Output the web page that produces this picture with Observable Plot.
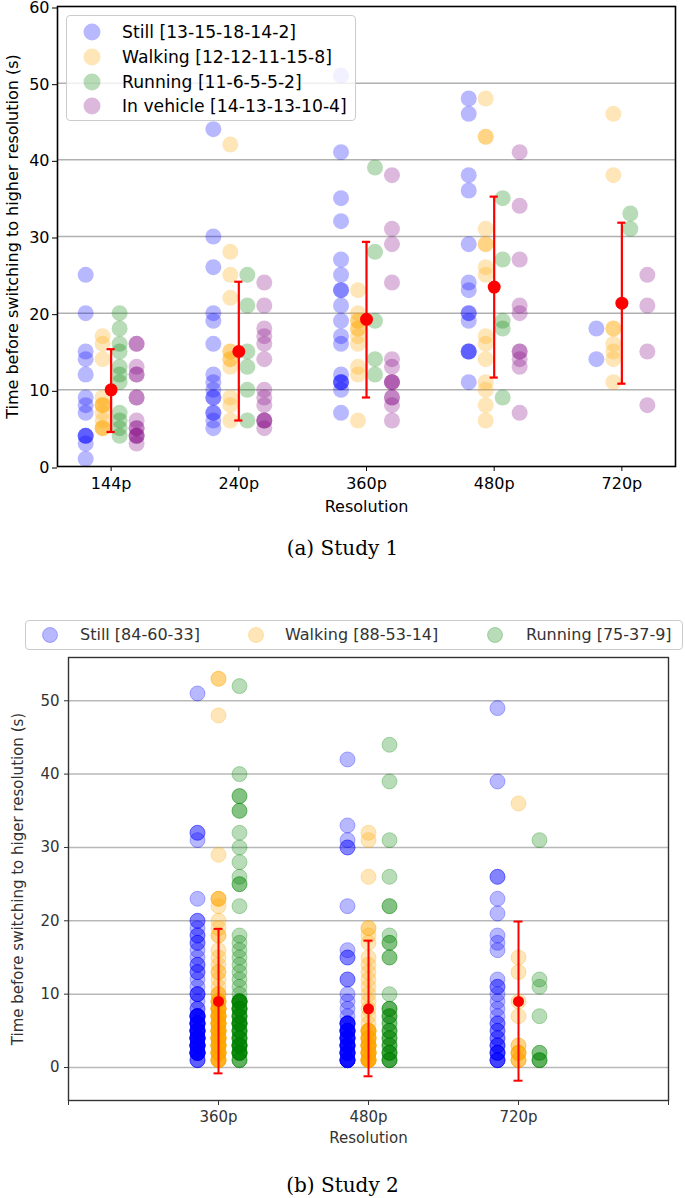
<!DOCTYPE html>
<html><head><meta charset="utf-8">
<script src="https://cdn.jsdelivr.net/npm/d3@7"></script>
<script src="https://cdn.jsdelivr.net/npm/@observablehq/plot@0.6"></script>
<style>
body{margin:0;background:#fff;overflow:hidden;}
#root{position:relative;width:685px;height:1198px;overflow:hidden;font-family:"DejaVu Sans",sans-serif;background:#fff;}
.panel{position:absolute;left:0;}
.cap{position:absolute;left:0;width:685px;text-align:center;font-family:"DejaVu Serif",serif;font-size:20px;line-height:24px;color:#000;}
.legend{position:absolute;border:1px solid #cccccc;border-radius:4px;background:rgba(255,255,255,0.8);z-index:5;box-sizing:border-box;}
.item{position:absolute;white-space:nowrap;}
.item svg{position:absolute;}
</style></head>
<body><div id="root"></div>
<script>
// ---------- Study 1 data ----------
const resolutions1 = ["144p", "240p", "360p", "480p", "720p"];
const seriesNames1 = ["Still", "Walking", "Running", "In vehicle"];
const legendLabels1 = ["Still [13-15-18-14-2]", "Walking [12-12-11-15-8]", "Running [11-6-5-5-2]", "In vehicle [14-13-13-10-4]"];
const still1 = [
  [25, 20, 15, 14, 12, 9, 8, 7, 4, 4, 4, 3, 1],
  [44, 30, 26, 20, 19, 16, 12, 11, 10, 9, 9, 7, 7, 6, 5],
  [51, 41, 35, 32, 27, 25, 23, 23, 21, 19, 17, 16, 12, 11, 11, 11, 10, 7],
  [48, 46, 38, 36, 29, 24, 23, 20, 20, 19, 15, 15, 15, 11],
  [18, 14]
];
const walking1 = [
  [17, 16, 14, 9, 8, 8, 8, 7, 6, 5, 5, 5],
  [42, 28, 25, 22, 15, 15, 14, 14, 13, 9, 8, 6],
  [23, 20, 19, 19, 18, 18, 17, 16, 13, 12, 6],
  [48, 43, 43, 31, 29, 29, 26, 25, 17, 16, 14, 11, 10, 8, 6],
  [46, 38, 18, 18, 16, 15, 14, 11]
];
const running1 = [
  [20, 18, 16, 15, 13, 12, 11, 7, 6, 5, 4],
  [25, 21, 15, 13, 10, 6],
  [39, 28, 19, 14, 12],
  [35, 27, 19, 18, 9],
  [33, 31]
];
const vehicle1 = [
  [16, 16, 13, 12, 12, 9, 9, 6, 5, 5, 4, 4, 4, 3],
  [24, 21, 18, 17, 16, 14, 10, 9, 8, 6, 6, 6, 5],
  [38, 31, 29, 24, 14, 13, 11, 11, 11, 9, 9, 8, 6],
  [41, 34, 27, 21, 20, 15, 15, 14, 13, 7],
  [25, 21, 15, 8]
];
const mean1 = [10, 15, 19.2, 23.4, 21.3];
const errLow1 = [4.5, 6, 9, 11.6, 10.8];
const errHigh1 = [15.3, 24.1, 29.3, 35.2, 31.8];
const yTicks1 = [0, 10, 20, 30, 40, 50, 60];

// ---------- Study 2 data ----------
const resolutions2 = ["", "360p", "480p", "720p", ""];
const legendLabels2 = ["Still [84-60-33]", "Walking [88-53-14]", "Running [75-37-9]"];
const still2 = [
  [51,32,32,31,23,20,20,19,18,18,17,17,16,15,14,14,13,13,12,11,10,10,10,9,8,8,
   7,7,7,7,7,7,7,7,6,6,6,6,6,6,6,6,5,5,5,5,5,5,5,5,5,4,4,4,4,4,4,4,4,4,4,
   3,3,3,3,3,3,3,3,3,3,2,2,2,2,2,2,2,2,2,2,1,1,1],
  [42,33,31,30,30,22,16,15,15,12,12,10,9,8,7,
   6,6,6,6,6,6,5,5,5,5,5,5,5,5,4,4,4,4,4,4,4,3,3,3,3,3,3,3,3,2,2,2,2,2,2,2,2,1,1,1,1,1,1,1,1],
  [49,39,26,26,23,21,18,17,16,12,11,11,10,9,8,7,6,6,5,5,4,4,3,3,3,2,2,2,2,1,1,1,1]
];
const walking2 = [
  [53,53,48,29,23,23,23,22,20,19,18,18,16,15,14,13,13,12,11,
   10,10,10,9,9,9,9,9,8,8,8,8,8,8,8,7,7,7,7,7,7,7,7,6,6,6,6,6,6,6,6,5,5,5,5,5,5,5,5,
   4,4,4,4,4,4,4,4,3,3,3,3,3,3,3,3,2,2,2,2,2,2,2,2,1,1,1,1,1,1],
  [32,31,26,19,19,18,17,15,14,13,12,11,10,9,8,7,6,
   5,5,5,5,5,5,4,4,4,4,4,4,3,3,3,3,3,3,3,3,2,2,2,2,2,2,2,2,1,1,1,1,1,1,1,1],
  [36,15,13,9,7,3,3,2,2,2,2,1,1,1]
];
const running2 = [
  [52,40,37,37,35,35,32,30,28,26,25,25,22,18,17,16,15,14,13,12,11,10,
   9,9,9,9,9,9,9,9,8,8,8,8,8,8,7,7,7,7,7,6,6,6,6,6,6,6,5,5,5,5,5,4,4,4,4,4,
   3,3,3,3,3,3,3,2,2,2,2,2,2,2,1,1,1],
  [44,39,31,26,22,22,18,17,17,15,15,10,8,8,8,7,7,7,6,6,5,5,5,4,4,4,3,3,3,2,2,2,2,1,1,1,1],
  [31,12,11,7,2,2,1,1,1]
];
const mean2 = [9, 8, 9];
const errLow2 = [-0.8, -1.2, -1.8];
const errHigh2 = [18.9, 17.3, 19.9];
const yTicks2 = [0, 10, 20, 30, 40, 50];

// ---------- styles ----------
const colors1 = ["blue", "orange", "green", "purple"];
const colors2 = ["blue", "orange", "green"];
const FONT = "DejaVu Sans";

function toRows(lists, off) {
  return lists.flatMap((vals, i) => vals.map(v => ({x: i + off, v})));
}
function statRows(means, lows, highs, first) {
  return means.map((m, k) => ({i: k + first, mean: m, lo: lows[k], hi: highs[k]}));
}

const root = document.getElementById("root");

// ---------- Panel 1 ----------
const lists1 = [still1, walking1, running1, vehicle1];
const step1 = 0.133;
const dots1 = lists1.map((lst, s) => Plot.dot(toRows(lst, (s - 1.5) * step1), {
  x: "x", y: "v", r: 8, fill: colors1[s], fillOpacity: 0.28, stroke: "none"
}));
const stats1 = statRows(mean1, errLow1, errHigh1, 0);
const cap1 = 0.032;
const p1 = Plot.plot({
  width: 685, height: 525,
  marginLeft: 57, marginRight: 10, marginTop: 6, marginBottom: 59,
  style: {fontFamily: FONT, fontSize: "16px", color: "#000", background: "transparent", overflow: "visible"},
  x: {domain: [-0.42, 4.42]},
  y: {domain: [0, 60]},
  marks: [
    Plot.gridY([10, 20, 30, 40, 50], {stroke: "#b0b0b0", strokeOpacity: 1, strokeWidth: 1.5}),
    ...dots1,
    Plot.ruleX(stats1, {x: "i", y1: "lo", y2: "hi", stroke: "red", strokeWidth: 2.2}),
    Plot.ruleY(stats1, {y: "lo", x1: d => d.i - cap1, x2: d => d.i + cap1, stroke: "red", strokeWidth: 2.2}),
    Plot.ruleY(stats1, {y: "hi", x1: d => d.i - cap1, x2: d => d.i + cap1, stroke: "red", strokeWidth: 2.2}),
    Plot.dot(stats1, {x: "i", y: "mean", r: 6.5, fill: "red", stroke: "none"}),
    Plot.frame({stroke: "#000", strokeWidth: 1.6}),
    Plot.axisY(yTicks1, {tickSize: 5, tickPadding: 3, fontSize: 16, label: null, stroke: "#000", fill: "#000", dy: 1.5}),
    Plot.axisX([0, 1, 2, 3, 4], {tickSize: 5, tickPadding: 6, fontSize: 16, label: null, stroke: "#000", fill: "#000",
      tickFormat: i => resolutions1[i]}),
    Plot.text(["Time before switching to higher resolution (s)"], {frameAnchor: "left", dx: -45, rotate: -90,
      textAnchor: "middle", fontSize: 16, fill: "#000"}),
    Plot.text(["Resolution"], {frameAnchor: "bottom", dy: 45, fontSize: 16, fill: "#000"})
  ]
});
p1.classList.add("panel");
p1.style.top = "0px";
root.appendChild(p1);

// legend 1
const lg1 = document.createElement("div");
lg1.className = "legend";
Object.assign(lg1.style, {left: "66px", top: "15px", width: "290px", height: "106px"});
legendLabels1.forEach((lab, k) => {
  const it = document.createElement("div");
  it.className = "item";
  const cy = 16 + k * 24.8;
  it.style.left = "0px"; it.style.top = (cy - 10) + "px"; it.style.height = "20px";
  it.innerHTML = `<svg width="40" height="20" style="left:14px;top:0"><circle cx="11" cy="10" r="8.5" fill="${colors1[k]}" fill-opacity="0.28"/></svg>` +
    `<span style="position:absolute;left:55px;top:0;font-size:17.2px;line-height:20px;color:#000;font-family:'${FONT}'">${lab}</span>`;
  lg1.appendChild(it);
});
root.appendChild(lg1);

const c1 = document.createElement("div");
c1.className = "cap"; c1.style.top = "536px"; c1.textContent = "(a) Study 1";
root.appendChild(c1);

// ---------- Panel 2 ----------
const lists2 = [still2, walking2, running2];
const step2 = 0.14;
const dots2 = lists2.map((lst, s) => Plot.dot(toRows(lst, 1 + (s - 1) * step2), {
  x: "x", y: "v", r: 7.5, fill: colors2[s], fillOpacity: 0.28, stroke: colors2[s], strokeOpacity: 0.28, strokeWidth: 1
}));
const stats2 = statRows(mean2, errLow2, errHigh2, 1);
const cap2 = 0.03;
const p2 = Plot.plot({
  width: 685, height: 560,
  marginLeft: 68, marginRight: 17, marginTop: 57, marginBottom: 60,
  style: {fontFamily: FONT, fontSize: "15px", color: "#333", background: "transparent", overflow: "visible"},
  x: {domain: [0, 4]},
  y: {domain: [-4.5, 55.9]},
  marks: [
    Plot.gridY(yTicks2, {stroke: "#b8b8b8", strokeOpacity: 1, strokeWidth: 1.5}),
    ...dots2,
    Plot.ruleX(stats2, {x: "i", y1: "lo", y2: "hi", stroke: "red", strokeWidth: 2}),
    Plot.ruleY(stats2, {y: "lo", x1: d => d.i - cap2, x2: d => d.i + cap2, stroke: "red", strokeWidth: 2}),
    Plot.ruleY(stats2, {y: "hi", x1: d => d.i - cap2, x2: d => d.i + cap2, stroke: "red", strokeWidth: 2}),
    Plot.dot(stats2, {x: "i", y: "mean", r: 5.5, fill: "red", stroke: "none"}),
    Plot.frame({stroke: "#333", strokeWidth: 1.4}),
    Plot.axisY(yTicks2, {tickSize: 4, tickPadding: 5, fontSize: 15, label: null, stroke: "#333", fill: "#333"}),
    Plot.axisX([0, 1, 2, 3, 4], {tickSize: 5, tickPadding: 6, fontSize: 15, label: null, stroke: "#333", fill: "#333",
      tickFormat: i => resolutions2[i]}),
    Plot.text(["Time before switching to higer resolution (s)"], {frameAnchor: "left", dx: -50, rotate: -90,
      textAnchor: "middle", fontSize: 15, fill: "#333"}),
    Plot.text(["Resolution"], {frameAnchor: "bottom", dy: 42, fontSize: 15, fill: "#333"})
  ]
});
p2.classList.add("panel");
p2.style.top = "600px";
root.appendChild(p2);

// legend 2
const lg2 = document.createElement("div");
lg2.className = "legend";
Object.assign(lg2.style, {left: "25px", top: "620px", width: "658px", height: "30px"});
const lg2x = [[24, 54], [230, 259], [469, 500]];
legendLabels2.forEach((lab, k) => {
  const it = document.createElement("div");
  it.className = "item";
  it.style.left = "0px"; it.style.top = "4px"; it.style.height = "20px";
  it.innerHTML = `<svg width="20" height="20" style="left:${lg2x[k][0] - 10}px;top:0"><circle cx="10" cy="10" r="7.5" fill="${colors2[k]}" fill-opacity="0.28" stroke="${colors2[k]}" stroke-opacity="0.28"/></svg>` +
    `<span style="position:absolute;left:${lg2x[k][1]}px;top:0;font-size:16px;line-height:20px;color:#333;font-family:'${FONT}'">${lab}</span>`;
  lg2.appendChild(it);
});
root.appendChild(lg2);

const c2 = document.createElement("div");
c2.className = "cap"; c2.style.top = "1173px"; c2.textContent = "(b) Study 2";
root.appendChild(c2);
</script>
</body></html>
